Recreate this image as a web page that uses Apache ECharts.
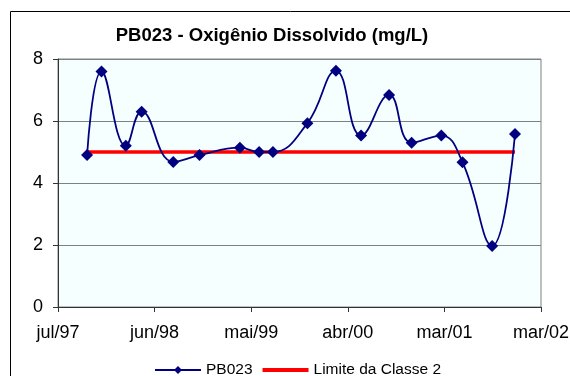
<!DOCTYPE html>
<html>
<head>
<meta charset="utf-8">
<script src="https://cdn.jsdelivr.net/npm/echarts@6/dist/echarts.min.js"></script>
<style>
  html, body { margin: 0; padding: 0; background: #fff; }
  #chart { width: 570px; height: 376px; }
</style>
</head>
<body>
<div id="chart"></div>
<script>
// datas de coleta
const dates = [
  '1997-10-12', '1997-12-02', '1998-02-26', '1998-04-23', '1998-08-13', '1998-11-14',
  '1999-04-06', '1999-06-13', '1999-08-01', '1999-12-01', '2000-03-11', '2000-06-08',
  '2000-09-15', '2000-12-04', '2001-03-19', '2001-06-02', '2001-09-15', '2001-12-05'
];
const od = [4.9, 7.6, 5.2, 6.3, 4.68, 4.9, 5.14, 5.0, 5.0, 5.93, 7.62, 5.53, 6.84, 5.3, 5.53, 4.67, 1.97, 5.58];
const limite = [5, 5, 5, 5, 5, 5, 5, 5, 5, 5, 5, 5, 5, 5, 5, 5, 5, 5];
const mesesPt = ['jan', 'fev', 'mar', 'abr', 'mai', 'jun', 'jul', 'ago', 'set', 'out', 'nov', 'dez'];
const yTicks = [0, 2, 4, 6, 8];

const start = Date.UTC(1997, 6, 1);
const DAY = 86400000;
const stepDays = 342; // unidade principal do eixo (dias)
const toDays = d => {
  const p = d.split('-').map(Number);
  return Math.round((Date.UTC(p[0], p[1] - 1, p[2]) - start) / DAY);
};
const fmtDay = v => {
  const dt = new Date(start + v * DAY);
  return mesesPt[dt.getUTCMonth()] + '/' + String(dt.getUTCFullYear()).slice(2);
};

const xs = dates.map(toDays);
const font = 'Liberation Sans, Arial, sans-serif';

const chart = echarts.init(document.getElementById('chart'));
chart.setOption({
  animation: false,
  title: {
    text: 'PB023 - Oxigênio Dissolvido (mg/L)',
    left: 267, top: 21, textAlign: 'center',
    textStyle: { fontFamily: font, fontSize: 18.5, fontWeight: 'bold', color: '#000' }
  },
  legend: {
    top: 362, left: 152, padding: [0, 2],
    itemWidth: 46, itemHeight: 10, itemGap: 10,
    textStyle: { fontFamily: font, fontSize: 15.5, color: '#000' },
    data: [
      'PB023',
      { name: 'Limite da Classe 2', icon: 'path://M0,0 L46,0 L46,4 L0,4 Z' }
    ]
  },
  grid: { left: 58, right: 29, top: 59, bottom: 69, containLabel: false, outerBoundsMode: 'none',
    show: true, backgroundColor: '#f5ffff', borderColor: '#808080', borderWidth: 1 },
  graphic: [{
    type: 'rect', shape: { x: 10.5, y: 11.5, width: 600, height: 400 },
    style: { fill: 'none', stroke: '#000', lineWidth: 1 }, silent: true
  }],
  xAxis: {
    type: 'value', min: 0, max: stepDays * 5, interval: stepDays,
    axisLine: { lineStyle: { color: '#333', width: 1 } },
    axisTick: { show: true, length: 5, lineStyle: { color: '#333' } },
    splitLine: { show: false },
    axisLabel: { formatter: fmtDay, fontFamily: font, fontSize: 18, color: '#000', margin: 17,
      showMinLabel: true, showMaxLabel: true }
  },
  yAxis: {
    type: 'value', min: yTicks[0], max: yTicks[yTicks.length - 1], interval: 2,
    axisLine: { show: true, lineStyle: { color: '#333', width: 1 } },
    axisTick: { show: true, length: 5, lineStyle: { color: '#333' } },
    splitLine: { lineStyle: { color: '#808080', width: 1 } },
    axisLabel: { fontFamily: font, fontSize: 18, color: '#000', margin: 15 }
  },
  series: [
    {
      name: 'PB023', type: 'line', z: 3,
      data: xs.map((x, i) => [x, od[i]]),
      smooth: 0.45,
      symbol: 'diamond', symbolSize: 12,
      itemStyle: { color: '#000080' },
      lineStyle: { color: '#000080', width: 1.8 }
    },
    {
      name: 'Limite da Classe 2', type: 'line', z: 2,
      data: xs.map((x, i) => [x, limite[i]]),
      showSymbol: false, symbol: 'none',
      itemStyle: { color: '#ff0000' },
      lineStyle: { color: '#ff0000', width: 3.5 }
    }
  ]
});
</script>
</body>
</html>
